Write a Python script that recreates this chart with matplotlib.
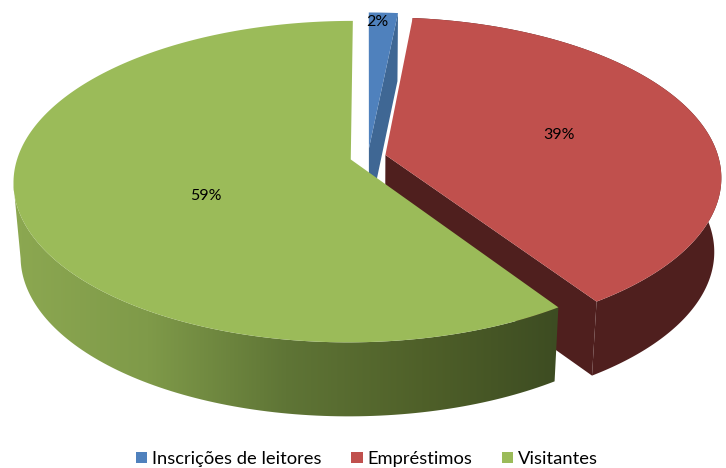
import numpy as np
import matplotlib
matplotlib.use('Agg')
import matplotlib.pyplot as plt
from matplotlib.colors import LinearSegmentedColormap
from matplotlib.patches import Patch, Polygon

labels = ['Inscrições de leitores', 'Empréstimos', 'Visitantes']
values = [1.6, 39.0, 59.4]
top_colors = ['#4F81BD', '#C0504D', '#9BBB59']
side_colors = ['#3F6794', '#4F1F1E', '#9BBB59']
green_side_colors = ['#8CA851', '#7F9A49', '#5F7536', '#4F6029', '#3D4C22']

# layout of the pie, in pixels of the 726x468 picture
CX, CY = 368, 157
RX, RY = 333, 157
PERSPECTIVE = 0.1375
EXPLODE = 0.054
DEPTH = 74
BOTTOM_SHRINK = 0.98
LABEL_XY = [(377, 22), (559, 135), (206, 196)]


def project(lateral, back):
    s = 1 / (1 + PERSPECTIVE * back)
    return CX + RX * lateral * s, CY - RY * back * s


def drop(points, amount=1.0):
    # same points on the underside of the disc
    pts = np.asarray(points, dtype=float)
    f = 1 - (1 - BOTTOM_SHRINK) * amount
    return np.column_stack([CX + (pts[:, 0] - CX) * f, pts[:, 1] + DEPTH * amount])


def slice_points(start, end):
    mid = np.radians((start + end) / 2)
    off_x, off_y = EXPLODE * np.sin(mid), EXPLODE * np.cos(mid)
    t = np.radians(np.linspace(start, end, 200))
    rim = np.column_stack(project(off_x + np.sin(t), off_y + np.cos(t)))
    apex = np.array(project(off_x, off_y))
    return apex, rim


fig = plt.figure(figsize=(7.26, 4.68), dpi=100)
ax = fig.add_axes([0, 0, 1, 1])

fractions = np.array(values) / sum(values) * 360
edges = np.concatenate([[0], np.cumsum(fractions)])

# blue, at the back
apex, rim = slice_points(edges[0], edges[1])
ax.add_patch(Polygon(np.vstack([apex, rim[-1], drop([rim[-1]], 0.92), drop([apex], 0.92)]),
                     fc=side_colors[0], ec='none'))
ax.add_patch(Polygon(np.vstack([apex, rim]), fc=top_colors[0], ec='none'))

# red
apex, rim = slice_points(edges[1], edges[2])
band = np.vstack([rim, drop(rim)[::-1]])
ax.add_patch(Polygon(band, fc=side_colors[1], ec='none'))
cut = np.vstack([apex, rim[-1], drop([rim[-1]]), drop([apex])])
ax.add_patch(Polygon(cut, fc=side_colors[1], ec='none'))
ax.add_patch(Polygon(np.vstack([apex, rim]), fc=top_colors[1], ec='none'))

# green, side wall has a left to right shading
apex, rim = slice_points(edges[2], edges[3])
front = rim[:np.argmin(rim[:, 0]) + 1]
band = Polygon(np.vstack([front, drop(front)[::-1]]), fc='none', ec='none')
ax.add_patch(band)
cmap = LinearSegmentedColormap.from_list('green_side', green_side_colors)
grad = ax.imshow(np.linspace(0, 1, 256)[None, :], cmap=cmap, aspect='auto',
                 extent=(rim[:, 0].min() - 2, rim[0, 0] + 2, 468, 0), zorder=1.5)
grad.set_clip_path(band)
ax.add_patch(Polygon(np.vstack([apex, rim]), fc=top_colors[2], ec='none', zorder=2))

for (x, y), v in zip(LABEL_XY, values):
    ax.text(x, y, f'{v:.0f}%', ha='center', va='center', fontsize=11.5, color='black',
            family='Lato', zorder=3)

handles = [Patch(fc=c, ec='none') for c in top_colors]
ax.legend(handles, labels, loc='center', bbox_to_anchor=(367 / 726, 1 - 459 / 468), ncol=3,
          frameon=False, prop={'family': 'Lato', 'size': 13.2}, handlelength=0.62,
          handleheight=0.62, handletextpad=0.27, columnspacing=1.6, borderpad=0)

ax.set_xlim(0, 726)
ax.set_ylim(468, 0)
ax.axis('off')
fig.savefig('out.png', dpi=100)
